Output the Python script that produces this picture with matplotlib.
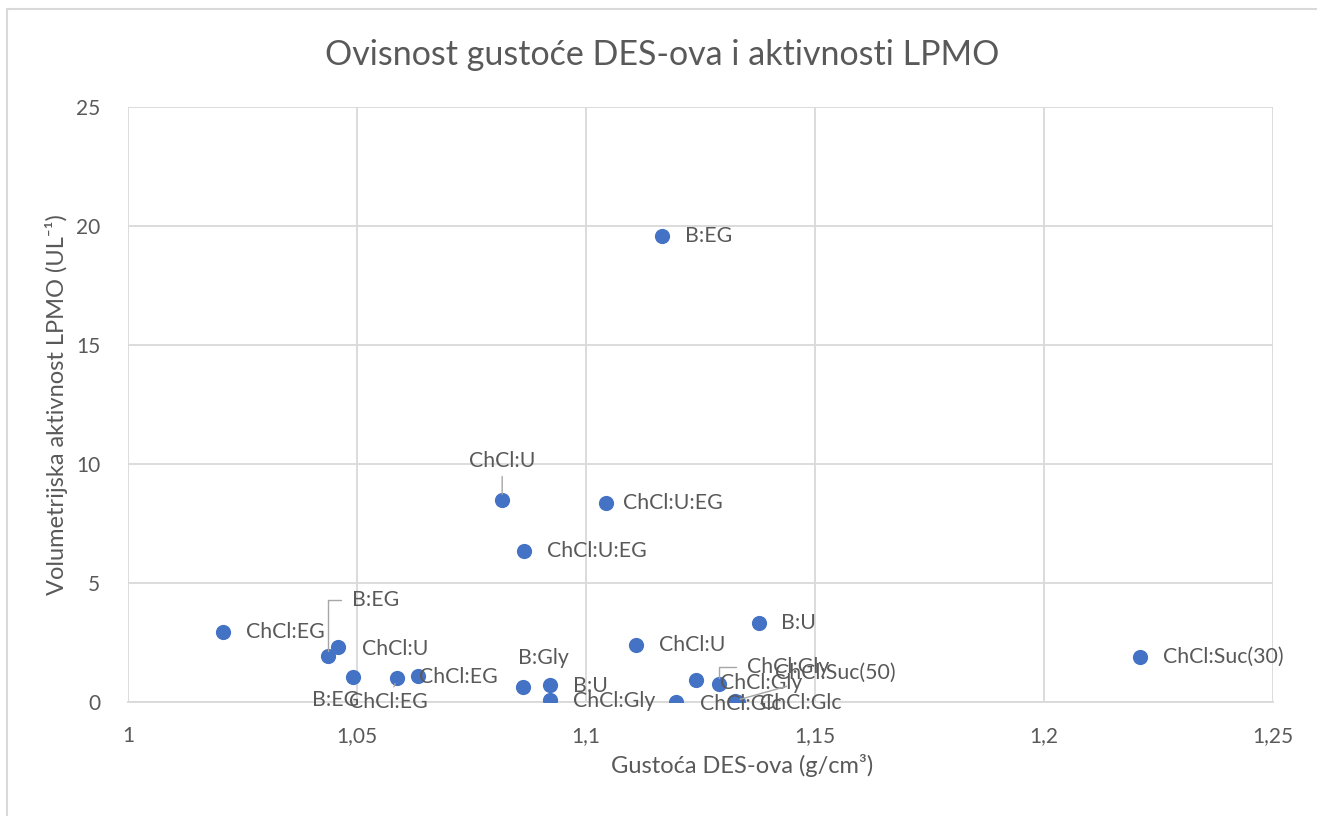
import matplotlib.pyplot as plt
from matplotlib.patches import Rectangle

# DES density vs. volumetric LPMO activity
names = ["ChCl:EG", "B:EG", "ChCl:U", "B:EG", "ChCl:EG", "ChCl:EG", "ChCl:U",
         "ChCl:U:EG", "ChCl:U:EG", "B:EG", "B:Gly", "B:U", "ChCl:Gly", "ChCl:U",
         "ChCl:Glc", "ChCl:Gly", "ChCl:Gly", "ChCl:Glc", "ChCl:Suc(50)", "B:U",
         "ChCl:Suc(30)"]
density = [1.0207, 1.0437, 1.0459, 1.0491, 1.0587, 1.0633, 1.0817,
           1.1044, 1.0865, 1.1166, 1.0862, 1.0921, 1.0921, 1.1109,
           1.1197, 1.1240, 1.1290, 1.1332, 1.1325, 1.1378,
           1.2210]
activity = [2.94, 1.93, 2.31, 1.05, 1.00, 1.09, 8.49,
            8.36, 6.34, 19.58, 0.63, 0.71, 0.08, 2.39,
            0.00, 0.92, 0.76, 0.00, 0.05, 3.32,
            1.89]

# label offsets in pixels (dx, dy, ha, leader)
offsets = [(23, 0, "left", None), (24, 56, "left", "angle"), (24, -2, "left", None),
           (-17, -23, "center", None), (-8, -24, "center", "line"), (1, -1, "left", None),
           (0, 39, "center", "line"), (17, 0, "left", None), (23, 0, "left", None),
           (23, 0, "left", None), (21, 29, "center", None), (23, -1, "left", None),
           (23, -1, "left", None), (23, 0, "left", None), (24, -2, "left", None),
           (24, -3, "left", None), (28, 17, "left", "angle"), (22, -1, "left", None),
           (40, 28, "left", "line"), (22, 0, "left", None), (23, 0, "left", None)]

txt = "#595959"
grid = "#D9D9D9"
blue = "#4472C4"
plt.rcParams['font.family'] = ['Lato', 'DejaVu Sans']

fig = plt.figure(figsize=(13.17, 8.16), dpi=100)
fig.patches.append(Rectangle((7 / 1317, -0.01), 1.02, (816 - 9) / 816 + 0.01,
                             transform=fig.transFigure, fill=False,
                             edgecolor=grid, linewidth=1.5))
ax = fig.add_axes([128 / 1317, 1 - 702 / 816, (1273 - 128) / 1317, (702 - 107) / 816])

ax.scatter(density, activity, s=120, color=blue, zorder=3, linewidths=0)

for n, x, y, (dx, dy, ha, lead) in zip(names, density, activity, offsets):
    kw = dict(xy=(x, y), xytext=(dx, dy), textcoords="offset pixels",
              ha=ha, va="center", fontsize=15.3, color=txt, zorder=4)
    if lead == "line":
        kw["arrowprops"] = dict(arrowstyle="-", color="#A6A6A6", lw=1,
                                shrinkA=2, shrinkB=4)
    elif lead == "angle":
        kw["arrowprops"] = dict(arrowstyle="-", color="#A6A6A6", lw=1,
                                connectionstyle="angle,angleA=0,angleB=90,rad=0",
                                relpos=(0, 0.5), shrinkA=6, shrinkB=4)
    ax.annotate(n, **kw)

ax.set_xlim(1, 1.25)
ax.set_ylim(0, 25)
ax.set_xticks([1, 1.05, 1.1, 1.15, 1.2, 1.25])
ax.set_xticklabels(["1", "1,05", "1,1", "1,15", "1,2", "1,25"])
ax.set_yticks([0, 5, 10, 15, 20, 25])
ax.grid(True, color=grid, linewidth=1.3)
ax.set_axisbelow(True)
for s in ["top", "right", "left"]:
    ax.spines[s].set_visible(False)
ax.spines["bottom"].set_color(grid)
ax.spines["bottom"].set_linewidth(1.3)
ax.tick_params(length=0, labelsize=15, labelcolor=txt)
ax.tick_params(axis="x", pad=17)
ax.tick_params(axis="y", pad=20)

ax.set_xlabel("Gustoća DES-ova (g/cm³)", fontsize=17, color=txt)
ax.xaxis.set_label_coords(0.536, -0.087)
ax.set_ylabel("Volumetrijska aktivnost LPMO (UL⁻¹)", fontsize=17, color=txt, labelpad=6)
fig.text(662 / 1317, 1 - 55 / 816, "Ovisnost gustoće DES-ova i aktivnosti LPMO",
         ha="center", va="center", fontsize=24.5, color=txt)

fig.savefig("out.png", dpi=100)
